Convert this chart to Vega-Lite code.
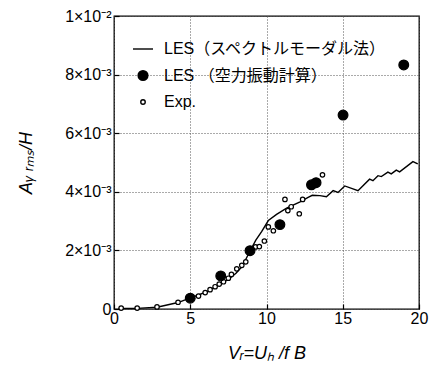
{
  "$schema": "https://vega.github.io/schema/vega-lite/v6.json",
  "autosize": {"type": "none"},
  "width": 305,
  "height": 293,
  "padding": {"left": 114, "top": 16, "right": 15, "bottom": 56},
  "background": "white",
  "config": {
    "view": {"stroke": "black", "strokeWidth": 1.3},
    "font": "Liberation Sans",
    "axis": {
      "grid": true,
      "gridColor": "#555",
      "gridDash": [1, 2],
      "gridWidth": 1,
      "domain": false,
      "ticks": true,
      "tickSize": -5,
      "tickColor": "black",
      "tickWidth": 1.2,
      "labelFontSize": 16,
      "labelColor": "black",
      "labelFont": "Liberation Sans",
      "labelFlush": false,
      "labelOverlap": false,
      "titleFont": "Liberation Sans",
      "titleFontSize": 18,
      "titleFontWeight": "normal",
      "titleFontStyle": "italic",
      "titleColor": "black"
    },
    "legend": {
      "orient": "none",
      "legendX": 18,
      "legendY": 22,
      "padding": 0,
      "labelFont": "Liberation Sans, Noto Sans CJK JP",
      "labelFontSize": 16,
      "labelColor": "black",
      "labelLimit": 0,
      "symbolStrokeWidth": 1.4,
      "rowPadding": 10.5,
      "labelOffset": 10,
      "title": null
    }
  },
  "datasets": {
    "les_line": [
      {"x": 0.3, "y": 0.00002},
      {"x": 1.52, "y": 0.00002},
      {"x": 2.82, "y": 0.00006},
      {"x": 4.2, "y": 0.00022},
      {"x": 5.0, "y": 0.00038},
      {"x": 5.5, "y": 0.00047},
      {"x": 6.2, "y": 0.00062},
      {"x": 6.74, "y": 0.0008},
      {"x": 7.2, "y": 0.00092},
      {"x": 7.6, "y": 0.00105},
      {"x": 8.0, "y": 0.00122},
      {"x": 8.4, "y": 0.00145},
      {"x": 8.92, "y": 0.00198},
      {"x": 9.3, "y": 0.00235},
      {"x": 9.68, "y": 0.00264},
      {"x": 10.12, "y": 0.00302},
      {"x": 10.66, "y": 0.00323},
      {"x": 11.32, "y": 0.00344},
      {"x": 12.2, "y": 0.00366},
      {"x": 12.73, "y": 0.00381},
      {"x": 13.0, "y": 0.00388},
      {"x": 13.5, "y": 0.00387},
      {"x": 13.93, "y": 0.00383},
      {"x": 14.37, "y": 0.00404},
      {"x": 14.69, "y": 0.00398},
      {"x": 15.13, "y": 0.0042},
      {"x": 16.0, "y": 0.00404},
      {"x": 16.76, "y": 0.00443},
      {"x": 16.98, "y": 0.00438},
      {"x": 17.31, "y": 0.00455},
      {"x": 17.53, "y": 0.00452},
      {"x": 17.96, "y": 0.00467},
      {"x": 18.18, "y": 0.00461},
      {"x": 18.51, "y": 0.00474},
      {"x": 18.73, "y": 0.00468},
      {"x": 19.6, "y": 0.00503},
      {"x": 19.92, "y": 0.00495}
    ],
    "pts": [
      {"series": "Exp.", "x": 0.47, "y": 0.00003},
      {"series": "Exp.", "x": 1.52, "y": 0.00003},
      {"series": "Exp.", "x": 2.82, "y": 0.00007},
      {"series": "Exp.", "x": 4.2, "y": 0.00023},
      {"series": "Exp.", "x": 5.54, "y": 0.00044},
      {"series": "Exp.", "x": 5.98, "y": 0.00056},
      {"series": "Exp.", "x": 6.3, "y": 0.00066},
      {"series": "Exp.", "x": 6.63, "y": 0.00076},
      {"series": "Exp.", "x": 6.9, "y": 0.00085},
      {"series": "Exp.", "x": 7.18, "y": 0.00093},
      {"series": "Exp.", "x": 7.5, "y": 0.00105},
      {"series": "Exp.", "x": 7.7, "y": 0.00118},
      {"series": "Exp.", "x": 8.05, "y": 0.00137},
      {"series": "Exp.", "x": 8.38, "y": 0.00149},
      {"series": "Exp.", "x": 8.64, "y": 0.00161},
      {"series": "Exp.", "x": 9.28, "y": 0.00212},
      {"series": "Exp.", "x": 9.53, "y": 0.00213},
      {"series": "Exp.", "x": 9.86, "y": 0.00232},
      {"series": "Exp.", "x": 10.12, "y": 0.0028},
      {"series": "Exp.", "x": 10.45, "y": 0.00267},
      {"series": "Exp.", "x": 11.21, "y": 0.00374},
      {"series": "Exp.", "x": 11.4, "y": 0.00336},
      {"series": "Exp.", "x": 11.62, "y": 0.00349},
      {"series": "Exp.", "x": 12.15, "y": 0.00325},
      {"series": "Exp.", "x": 12.37, "y": 0.00374},
      {"series": "Exp.", "x": 13.67, "y": 0.00458},
      {"series": "LES （空力振動計算）", "x": 5.0, "y": 0.00037},
      {"series": "LES （空力振動計算）", "x": 7.0, "y": 0.00113},
      {"series": "LES （空力振動計算）", "x": 8.92, "y": 0.00199},
      {"series": "LES （空力振動計算）", "x": 10.88, "y": 0.00288},
      {"series": "LES （空力振動計算）", "x": 12.95, "y": 0.00424},
      {"series": "LES （空力振動計算）", "x": 13.25, "y": 0.00431},
      {"series": "LES （空力振動計算）", "x": 15.02, "y": 0.00662},
      {"series": "LES （空力振動計算）", "x": 19.0, "y": 0.00833}
    ]
  },
  "encoding": {
    "x": {
      "field": "x",
      "type": "quantitative",
      "scale": {"domain": [0, 20], "nice": false, "zero": false},
      "axis": {"values": [0, 5, 10, 15, 20], "title": "Vᵣ=Uₕ /f B", "labelPadding": 6, "titlePadding": 18}
    },
    "y": {
      "field": "y",
      "type": "quantitative",
      "scale": {"domain": [0, 0.01], "nice": false, "zero": false},
      "axis": {
        "values": [0, 0.002, 0.004, 0.006, 0.008, 0.01],
        "labelExpr": "datum.value == 0 ? '0' : (datum.value > 0.0099 ? '1×10⁻²' : round(datum.value * 1000) + '×10⁻³')",
        "title": "Aᵧ ᵣₘₛ/H",
        "labelPadding": 8,
        "titlePadding": 29
      }
    }
  },
  "layer": [
    {
      "data": {"name": "les_line"},
      "mark": {"type": "line", "color": "black", "strokeWidth": 1.4},
      "encoding": {}
    },
    {
      "data": {"name": "pts"},
      "mark": {"type": "point", "opacity": 1, "strokeWidth": 1.2},
      "encoding": {
        "shape": {
          "field": "series",
          "type": "nominal",
          "scale": {
            "domain": ["LES（スペクトルモーダル法）", "LES （空力振動計算）", "Exp."],
            "range": ["M-1,0H1", "circle", "circle"]
          }
        },
        "fill": {
          "field": "series",
          "type": "nominal",
          "scale": {
            "domain": ["LES（スペクトルモーダル法）", "LES （空力振動計算）", "Exp."],
            "range": ["black", "black", "white"]
          }
        },
        "stroke": {
          "field": "series",
          "type": "nominal",
          "scale": {
            "domain": ["LES（スペクトルモーダル法）", "LES （空力振動計算）", "Exp."],
            "range": ["black", "black", "black"]
          }
        },
        "size": {
          "field": "series",
          "type": "nominal",
          "scale": {
            "type": "ordinal",
            "domain": ["LES（スペクトルモーダル法）", "LES （空力振動計算）", "Exp."],
            "range": [400, 95, 20]
          }
        }
      }
    }
  ]
}
